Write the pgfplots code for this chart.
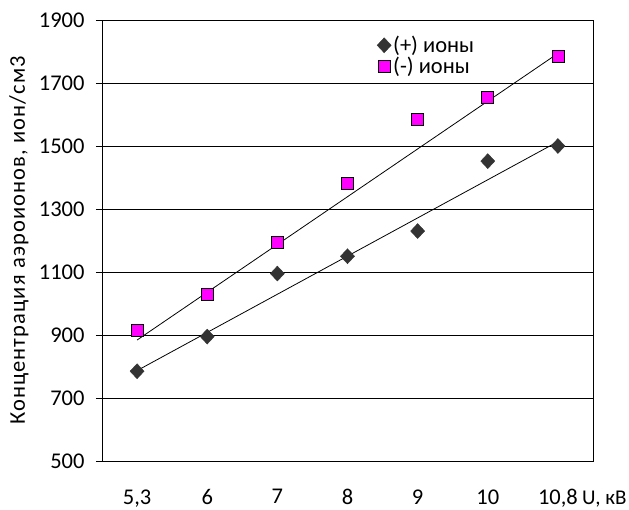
\documentclass[border=0pt]{standalone}
\usepackage{fontspec}
\setmainfont{Carlito}
\usepackage{pgfplots}
\pgfplotsset{compat=1.18}
\definecolor{dgray}{HTML}{333333}
\definecolor{mag}{HTML}{FF00FF}
\newcommand{\chf}{\fontsize{22.5bp}{26bp}\selectfont}
\begin{document}
\begin{tikzpicture}[font=\chf]
\begin{axis}[
  scale only axis, width=491bp, height=441bp,
  xmin=0.5, xmax=7.5, ymin=500, ymax=1900,
  ytick={500,700,...,1900},
  xtick={1,...,7},
  xticklabels={{5,3},6,7,8,9,10,{10,8}},
  minor xtick={0.5,1.5,...,7.5},
  /pgf/number format/assume math mode=true,
  /pgf/number format/1000 sep={},
  ymajorgrids,
  grid style={black, line width=0.75pt},
  axis line style={black, line width=0.9pt},
  tick style={black, line width=0.8pt},
  tick align=outside, tick pos=left,
  xtick style={draw=none},
  minor tick length=6bp,
  major tick length=6bp,
  xminorgrids=false,
  tick label style={font=\chf},
  label style={font=\chf},
  x tick label style={yshift=-19bp},
  y tick label style={xshift=-8bp},
  ylabel={\addfontfeatures{LetterSpace=5}Концентрация аэроионов, ион/см3},
  ylabel style={at={(axis description cs:-0.169,0.5)}, anchor=center},
  legend style={at={(axis description cs:0.56,0.968)}, anchor=north west, draw=none, fill=none,
    row sep=-1bp, inner sep=0pt, font=\chf},
  legend cell align=left,
  clip=false,
]
\addplot[only marks, mark=diamond*, mark size=7.5bp, mark options={xscale=1.25, fill=dgray, draw=dgray}]
  coordinates {(1,785) (2,895) (3,1095) (4,1150) (5,1230) (6,1452) (7,1500)};
\addlegendentry{(+) ионы}
\addplot[only marks, mark=square*, mark size=6bp, mark options={fill=mag, draw=black, line width=0.8pt}]
  coordinates {(1,915) (2,1030) (3,1195) (4,1380) (5,1585) (6,1655) (7,1785)};
\addlegendentry{(-) ионы}
\addplot[black, line width=0.8pt, forget plot] coordinates {(1,787) (7,1514)};
\addplot[black, line width=0.8pt, forget plot] coordinates {(1,884) (7,1794)};
\node[anchor=base west, font=\fontsize{21bp}{25bp}\selectfont, inner sep=0pt] at ([xshift=-11bp, yshift=-43bp]rel axis cs:1,0) {U, кВ};
\end{axis}
\pgfresetboundingbox
\path ([xshift=-102bp,yshift=-49bp]current axis.south west) rectangle ([xshift=36bp,yshift=20bp]current axis.north east);
\end{tikzpicture}
\end{document}
